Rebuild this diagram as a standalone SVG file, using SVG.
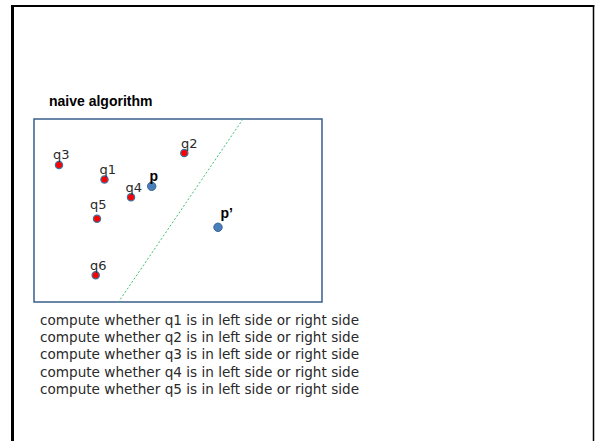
<svg xmlns="http://www.w3.org/2000/svg" width="596" height="441" viewBox="0 0 596 441">
<style>
.frame{stroke:#000;fill:none}
.q circle{fill:#ff0000;stroke:#41719c;stroke-width:1.3}
.p circle{fill:#4a7ebb;stroke:#3a6496;stroke-width:1}
.ql{font-family:"DejaVu Sans",sans-serif;font-size:13px;fill:#2a2a2a}
.pl{font-family:"Liberation Sans",Arial,sans-serif;font-size:14px;font-weight:bold;fill:#000}
.body{font-family:"DejaVu Sans",sans-serif;font-size:13.5px;fill:#2a2a2a}
</style>
<rect width="596" height="441" fill="#fff"/>
<g id="frame">
<line class="frame" x1="12.5" y1="5" x2="12.5" y2="441" stroke-width="3"/>
<line class="frame" x1="11" y1="6" x2="594.3" y2="6" stroke-width="2"/>
<line class="frame" x1="593.5" y1="5" x2="593.5" y2="441" stroke-width="1.5"/>
</g>
<text id="title" x="49" y="106" font-family="Liberation Sans, Arial, sans-serif" font-size="14" font-weight="bold" fill="#000">naive algorithm</text>
<rect id="box" x="34" y="119" width="288" height="183" fill="none" stroke="#385d8a" stroke-width="1.5"/>
<g id="connectors">
<line x1="243" y1="119" x2="118.5" y2="302" stroke="#3cbf73" stroke-width="1" stroke-dasharray="2,2"/>
</g>
<g id="q3" class="q"><circle cx="59" cy="165" r="3.6"/><text class="ql" x="53" y="158.5">q3</text></g>
<g id="q1" class="q"><circle cx="104.5" cy="179.5" r="3.6"/><text class="ql" x="99.5" y="174">q1</text></g>
<g id="q4" class="q"><circle cx="131" cy="197.3" r="3.6"/><text class="ql" x="125.5" y="191.5">q4</text></g>
<g id="q5" class="q"><circle cx="97" cy="218.7" r="3.6"/><text class="ql" x="90" y="208.5">q5</text></g>
<g id="q6" class="q"><circle cx="95.7" cy="275.3" r="3.6"/><text class="ql" x="90" y="269.5">q6</text></g>
<g id="q2" class="q"><circle cx="184.3" cy="153" r="3.6"/><text class="ql" x="181" y="147.5">q2</text></g>
<g id="p" class="p"><circle cx="151.7" cy="186.3" r="4.2"/><text class="pl" x="149.5" y="180.5">p</text></g>
<g id="p2" class="p"><circle cx="218" cy="227.3" r="4.2"/><text class="pl" x="220.5" y="218">p’</text></g>
<g id="notes" class="body">
<text x="40" y="325" textLength="319" lengthAdjust="spacingAndGlyphs">compute whether q1 is in left side or right side</text>
<text x="40" y="342.2" textLength="319" lengthAdjust="spacingAndGlyphs">compute whether q2 is in left side or right side</text>
<text x="40" y="359.4" textLength="319" lengthAdjust="spacingAndGlyphs">compute whether q3 is in left side or right side</text>
<text x="40" y="376.6" textLength="319" lengthAdjust="spacingAndGlyphs">compute whether q4 is in left side or right side</text>
<text x="40" y="393.8" textLength="319" lengthAdjust="spacingAndGlyphs">compute whether q5 is in left side or right side</text>
</g>
</svg>
